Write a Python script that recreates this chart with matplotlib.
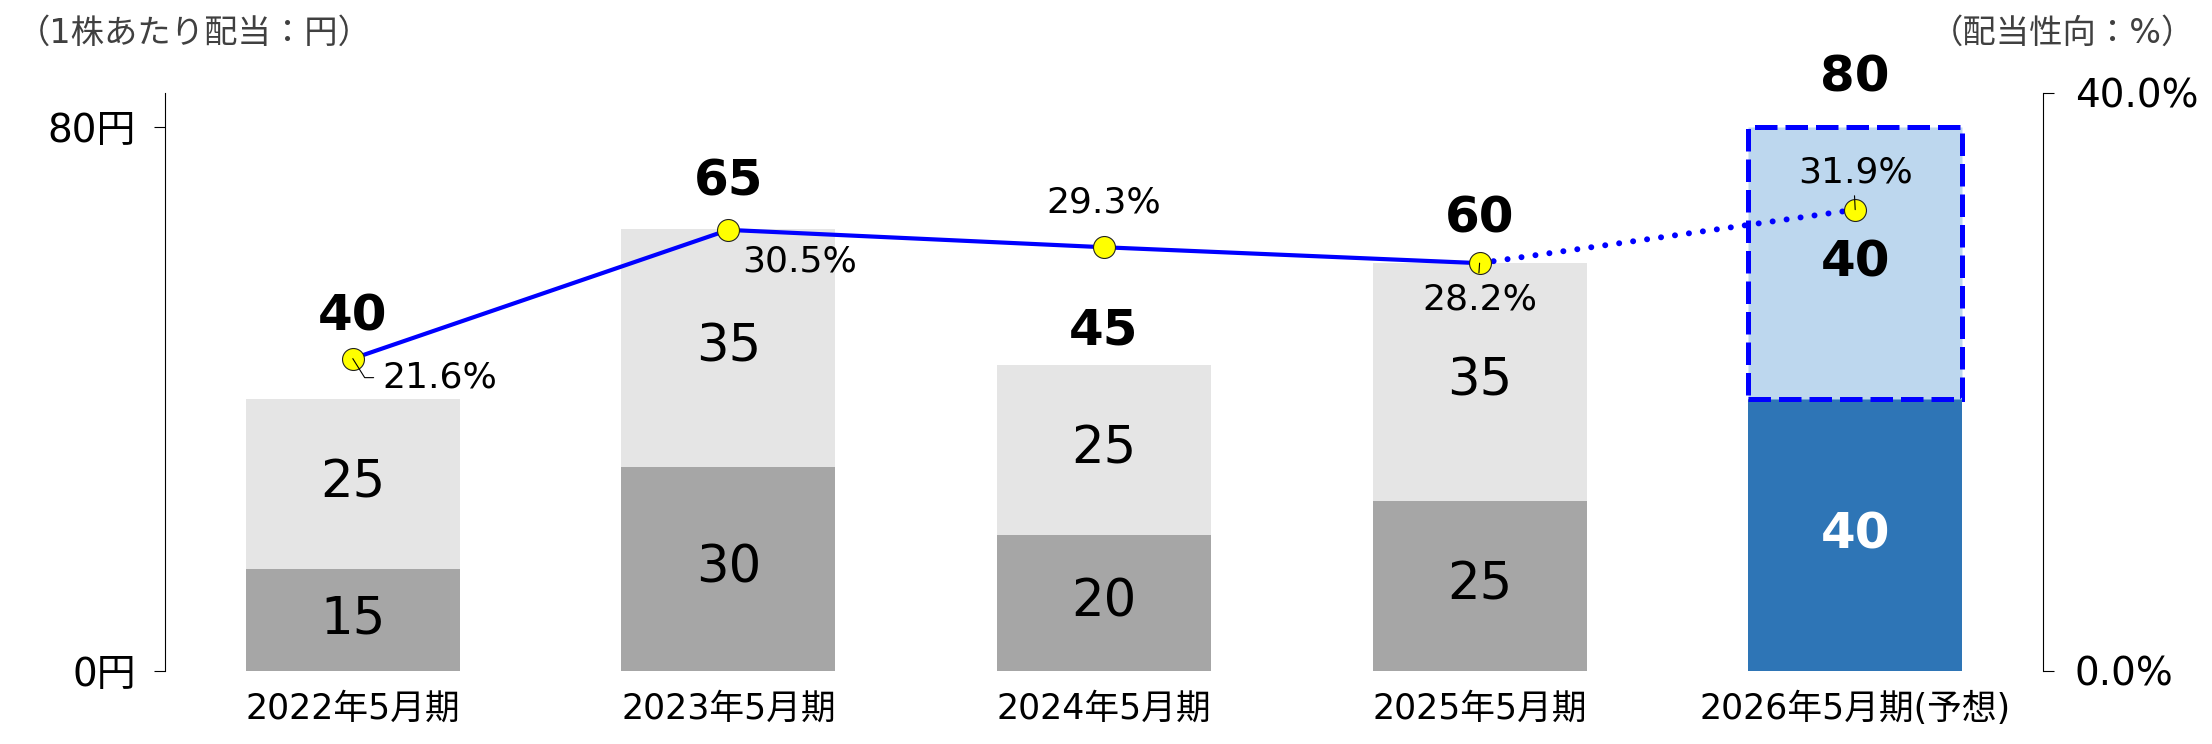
import matplotlib
matplotlib.use("Agg")
import matplotlib.pyplot as plt

plt.rcParams['font.family'] = ['DejaVu Sans', 'Noto Sans CJK JP']

# ---- data ----
categories = ['2022年5月期', '2023年5月期', '2024年5月期', '2025年5月期', '2026年5月期(予想)']
lower = [15, 30, 20, 25, 40]
upper = [25, 35, 25, 35, 40]
totals = [40, 65, 45, 60, 80]
payout = [21.6, 30.5, 29.3, 28.2, 31.9]
left_ticks = [0, 80]
left_tick_labels = ['0円', '80円']
right_ticks = [0, 40]
right_tick_labels = ['0.0%', '40.0%']
left_title = '（1株あたり配当：円）'
right_title = '（配当性向：%）'

# ---- styles / layout ----
W, H = 2212, 744
C_LOW = '#A6A6A6'
C_UP = '#E5E5E5'
C_LOW_F = '#2E75B6'
C_UP_F = '#BDD7EE'
C_LINE = '#0000FF'
total_off = [59, 34, 25, 32, 35]            # points above bar top
pct_off = [(21.5, -13.7), (10, -23), (0, 32), (0, -26), (0, 27)]
pct_ha = ['left', 'left', 'center', 'center', 'center']

fig = plt.figure(figsize=(W / 100, H / 100), dpi=100)
ax = fig.add_axes([165 / W, 73 / H, 1878 / W, 578.5 / H])
x = list(range(len(categories)))
n = len(categories)

ax.set_xlim(-0.5, n - 0.5)
ax.set_ylim(0, 85)

low_colors = [C_LOW] * (n - 1) + [C_LOW_F]
up_colors = [C_UP] * (n - 1) + [C_UP_F]
bw = 0.57
ax.bar(x, lower, width=bw, color=low_colors, zorder=2)
ax.bar(x[:-1], upper[:-1], bottom=lower[:-1], width=bw, color=up_colors[:-1], zorder=2)
ax.bar(x[-1:], upper[-1:], bottom=lower[-1:], width=bw, facecolor=C_UP_F,
       edgecolor=C_LINE, linewidth=3.6, linestyle=(0, (4.5, 1.6)), zorder=3)

# segment labels
for i in x:
    last = (i == n - 1)
    ax.text(i, lower[i] / 2, str(lower[i]), ha='center', va='center',
            fontsize=36 if last else 37,
            color='white' if last else 'black', fontweight='bold' if last else 'normal', zorder=4)
    ax.text(i, lower[i] + upper[i] / 2, str(upper[i]), ha='center', va='center',
            fontsize=36 if last else 37,
            color='black', fontweight='bold' if last else 'normal', zorder=4)
    ax.annotate(str(totals[i]), xy=(i, totals[i]), xytext=(0, total_off[i]),
                textcoords='offset points', ha='center', va='center',
                fontsize=36, fontweight='bold', zorder=5)

ax.set_yticks(left_ticks)
ax.set_yticklabels(left_tick_labels)
ax.set_xticks(x)
ax.set_xticklabels(categories, fontsize=25)
ax.tick_params(axis='x', length=0, pad=15)
ax.tick_params(axis='y', length=8, width=0.8, pad=13, labelsize=28)
for s in ['top', 'bottom', 'right']:
    ax.spines[s].set_visible(False)
ax.spines['left'].set_linewidth(0.8)

# ---- payout ratio line ----
ax2 = ax.twinx()
ax2.set_ylim(0, 40)
ax2.plot(x[:-1], payout[:-1], color=C_LINE, lw=3.0, zorder=3, solid_capstyle='round')
ax2.plot(x[-2:], payout[-2:], color=C_LINE, lw=4.3, linestyle=(0, (0.01, 2.35)),
         dash_capstyle='round', zorder=3)
ax2.plot(x, payout, linestyle='none', marker='o', markersize=15.8,
         markerfacecolor='#FFFF00', markeredgecolor='#222222', markeredgewidth=0.8, zorder=4)

for i in x:
    ax2.annotate(f'{payout[i]:.1f}%', xy=(i, payout[i]), xytext=pct_off[i],
                 textcoords='offset points', ha=pct_ha[i], va='center',
                 fontsize=26, zorder=6)

# leader lines
ax2.annotate('', xy=(0, payout[0]), xytext=(15, -13.7), textcoords='offset points',
             arrowprops=dict(arrowstyle='-', lw=0.8, color='black', shrinkA=0, shrinkB=0,
                             connectionstyle='angle,angleA=180,angleB=-58,rad=0'), zorder=5)
ax2.annotate('', xy=(3, payout[3]), xytext=(-0.5, -7), textcoords='offset points',
             arrowprops=dict(arrowstyle='-', lw=0.8, color='black', shrinkA=0, shrinkB=0), zorder=5)
ax2.annotate('', xy=(4, payout[4]), xytext=(-0.5, 10), textcoords='offset points',
             arrowprops=dict(arrowstyle='-', lw=0.8, color='black', shrinkA=0, shrinkB=0), zorder=5)

ax2.set_yticks(right_ticks)
ax2.set_yticklabels(right_tick_labels)
ax2.tick_params(axis='y', length=8, width=0.8, pad=15, labelsize=28)
for s in ['top', 'bottom', 'left']:
    ax2.spines[s].set_visible(False)
ax2.spines['right'].set_linewidth(0.8)

fig.text(17 / W, 1 - 33 / H, left_title, ha='left', va='center', fontsize=24, color='#404040')
fig.text(2195 / W, 1 - 33 / H, right_title, ha='right', va='center', fontsize=24, color='#404040')

fig.savefig('out.png', dpi=100)
